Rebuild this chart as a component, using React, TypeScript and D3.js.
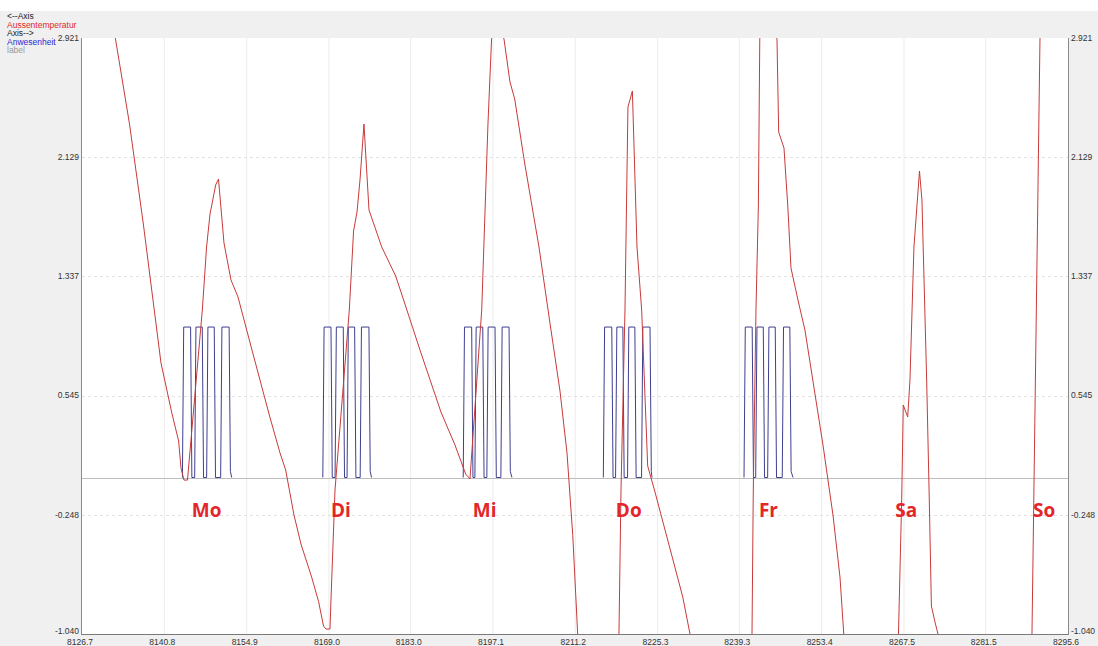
import React from "react";
import * as d3 from "d3";

const W = 1098;
const H = 646;

// X axis (hours) and Y axis ticks
const xTicks = [8126.7, 8140.8, 8154.9, 8169.0, 8183.0, 8197.1, 8211.2, 8225.3, 8239.3, 8253.4, 8267.5, 8281.5, 8295.6];
const xTickLabels = ["8126.7", "8140.8", "8154.9", "8169.0", "8183.0", "8197.1", "8211.2", "8225.3", "8239.3", "8253.4", "8267.5", "8281.5", "8295.6"];
const yTicks = [2.921, 2.129, 1.337, 0.545, -0.248, -1.04];
const yTickLabels = ["2.921", "2.129", "1.337", "0.545", "-0.248", "-1.040"];

// Aussentemperatur (red)
const tempHours = [8126.7, 8132.44, 8134.84, 8137.23, 8140.23, 8142.05, 8143.25, 8143.66, 8144.17, 8144.77, 8147.31, 8148.04, 8148.63, 8149.6, 8150.08, 8151.02, 8152.22, 8153.42, 8155.82, 8158.83, 8160.62, 8161.59, 8163.01, 8164.21, 8166.03, 8167.23, 8168.07, 8168.5, 8169.18, 8169.35, 8170.04, 8172.49, 8173.22, 8173.81, 8174.32, 8175.0, 8175.86, 8178.04, 8180.43, 8181.62, 8184.6, 8188.19, 8190.59, 8192.42, 8193.16, 8195.17, 8196.24, 8196.86, 8197.79, 8198.99, 8200.01, 8200.82, 8202.58, 8204.98, 8206.81, 8208.58, 8209.78, 8210.77, 8211.61, 8215.09, 8218.68, 8219.03, 8219.71, 8220.22, 8220.98, 8221.77, 8222.57, 8223.6, 8224.85, 8227.76, 8229.61, 8230.85, 8236.33, 8241.47, 8241.69, 8242.15, 8242.56, 8242.8, 8244.21, 8245.75, 8246.04, 8246.95, 8247.6, 8248.15, 8249.34, 8250.54, 8253.63, 8255.34, 8256.54, 8257.19, 8261.68, 8266.56, 8267.11, 8267.38, 8268.14, 8268.53, 8269.21, 8270.16, 8270.58, 8271.39, 8271.84, 8272.2, 8272.81, 8273.33, 8281.38, 8289.43, 8290.8, 8291.82];
const tempValues = [4.1, 2.914, 2.349, 1.678, 0.761, 0.435, 0.243, 0.063, -0.017, -0.017, 1.113, 1.532, 1.751, 1.944, 1.984, 1.559, 1.313, 1.2, 0.847, 0.409, 0.163, 0.05, -0.249, -0.442, -0.661, -0.825, -0.987, -1.007, -1.007, -0.814, -0.083, 1.113, 1.638, 1.765, 1.977, 2.349, 1.778, 1.532, 1.339, 1.2, 0.847, 0.435, 0.216, 0.023, -0.01, 1.113, 2.349, 2.914, 3.041, 2.914, 2.629, 2.516, 2.077, 1.532, 1.04, 0.575, 0.163, -0.386, -1.04, -1.745, -1.04, -0.083, 1.113, 2.462, 2.569, 1.532, 1.113, 0.077, -0.096, -0.522, -0.794, -1.04, -1.877, -1.04, -0.083, 1.113, 1.804, 2.914, 3.174, 2.914, 2.296, 2.19, 1.804, 1.392, 1.18, 0.98, 0.216, -0.249, -0.661, -1.04, -1.612, -1.04, -0.149, 0.482, 0.402, 0.648, 1.532, 2.037, 1.844, 0.648, -0.149, -0.854, -0.96, -1.04, -1.745, -1.04, 2.914, 3.439];

// Anwesenheit (blue): presence pulses, 4 per day block
const pulseOn = [8143.9, 8146.0, 8148.05, 8150.45, 8167.95, 8170.05, 8172.1, 8174.35, 8192.0, 8194.0, 8196.05, 8198.45, 8216.0, 8218.1, 8220.15, 8222.55, 8240.1, 8242.1, 8244.15, 8246.65];
const pulseOff = [8145.3, 8147.3, 8149.35, 8151.9, 8169.35, 8171.45, 8173.4, 8175.85, 8193.45, 8195.35, 8197.45, 8199.85, 8217.45, 8219.35, 8221.4, 8224.0, 8241.5, 8243.4, 8245.45, 8247.95];
const blockEnd = [8152.35, 8176.3, 8200.35, 8224.35, 8248.5];

// Day labels
const dayNames = ["Mo", "Di", "Mi", "Do", "Fr", "Sa", "So"];
const dayLabelHours = [8145.5, 8169.35, 8193.65, 8218.15, 8242.65, 8266.0, 8289.6];

// Legend
const legendTexts = ["<--Axis", "Aussentemperatur", "Axis-->", "Anwesenheit", "label"];
const legendColors = ["#222222", "#e02828", "#222222", "#2a2ad0", "#9a9a9a"];

export default function App() {
  const left = 82, right = 1068, top = 38, bottom = 634;
  const x = d3.scaleLinear().domain([8126.7, 8295.6]).range([left, right]);
  const y = d3.scaleLinear().domain([-1.04, 2.921]).range([bottom, top]);

  const line = d3.line<[number, number]>().x((d) => x(d[0])).y((d) => y(d[1]));

  const tempPts: [number, number][] = tempHours.map((h, i) => [h, tempValues[i]]);
  const tempPath = line(tempPts) || "";

  const bluePaths: string[] = blockEnd.map((end, b) => {
    const pts: [number, number][] = [];
    for (let k = 0; k < 4; k++) {
      const i = b * 4 + k;
      pts.push([pulseOn[i], 0], [pulseOn[i] + 0.22, 1], [pulseOff[i], 1], [pulseOff[i] + 0.22, k === 3 ? 0.04 : 0]);
    }
    pts.push([end, 0]);
    return line(pts) || "";
  });

  const font = "'Liberation Sans', Arial, sans-serif";
  const lastY = yTicks.length - 1;

  return (
    <svg width={W} height={H} style={{ position: "absolute", left: 0, top: 0, display: "block" }}>
      <defs>
        <clipPath id="plotClip">
          <rect x={left} y={top} width={right - left} height={bottom - top} />
        </clipPath>
      </defs>
      <rect x={0} y={0} width={W} height={H} fill="#ffffff" />
      <rect x={0} y={11} width={W} height={H - 11} fill="#f0f0f0" />
      <rect x={left} y={top} width={right - left} height={bottom - top} fill="#ffffff" />

      {/* grid */}
      {xTicks.slice(1, -1).map((t, i) => (
        <line key={"gx" + i} x1={x(t)} x2={x(t)} y1={top} y2={bottom} stroke="#ececec" strokeWidth={1} />
      ))}
      {yTicks.slice(1, -1).map((t, i) => (
        <line key={"gy" + i} x1={left} x2={right} y1={Math.round(y(t)) + 0.5} y2={Math.round(y(t)) + 0.5} stroke="#e2e2e2" strokeDasharray="3,3" strokeWidth={1} />
      ))}

      {/* zero line */}
      <line x1={left} x2={right} y1={Math.round(y(0)) + 0.5} y2={Math.round(y(0)) + 0.5} stroke="#bdbdbd" strokeWidth={1} />

      <g clipPath="url(#plotClip)">
        {bluePaths.map((p, i) => (
          <path key={"b" + i} d={p} fill="none" stroke="#3f3f90" strokeWidth={1} />
        ))}
        <path d={tempPath} fill="none" stroke="#c83a3a" strokeWidth={1} />
      </g>

      {/* axes */}
      <line x1={left - 0.5} x2={left - 0.5} y1={top} y2={bottom + 1} stroke="#8a8a8a" />
      <line x1={right + 0.5} x2={right + 0.5} y1={top} y2={bottom + 1} stroke="#8a8a8a" />
      <line x1={left} x2={right} y1={bottom + 0.5} y2={bottom + 0.5} stroke="#7a7a7a" />

      {/* y labels */}
      {yTicks.map((t, i) => (
        <text key={"yl" + i} x={79} y={y(t) - (i === lastY ? 3 : 0)} dy="0.35em" textAnchor="end" fontSize={8.5} fontFamily={font} fill="#333">
          {yTickLabels[i]}
        </text>
      ))}
      {yTicks.map((t, i) => (
        <text key={"yr" + i} x={1071} y={y(t) - (i === lastY ? 3 : 0)} dy="0.35em" textAnchor="start" fontSize={8.5} fontFamily={font} fill="#333">
          {yTickLabels[i]}
        </text>
      ))}
      {/* x labels */}
      {xTicks.map((t, i) => (
        <text key={"xl" + i} x={x(t) - 2} y={644.5} textAnchor="middle" fontSize={8.5} fontFamily={font} fill="#333">
          {xTickLabels[i]}
        </text>
      ))}

      {/* day labels */}
      {dayNames.map((d, i) => (
        <text key={"d" + i} x={x(dayLabelHours[i])} y={517} fontSize={19} fontWeight={700} fontFamily="'Open Sans', sans-serif" fill="#e3262a">
          {d}
        </text>
      ))}

      {/* legend */}
      {legendTexts.map((t, i) => (
        <text key={"lg" + i} x={7} y={19 + i * 8.6} fontSize={8.5} fontFamily={font} fill={legendColors[i]}>
          {t}
        </text>
      ))}
    </svg>
  );
}
